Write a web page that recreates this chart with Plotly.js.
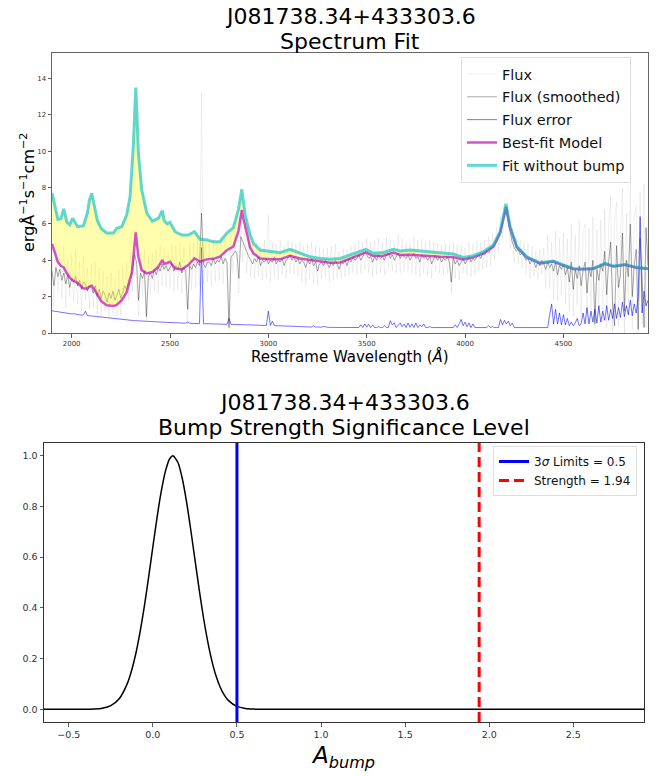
<!DOCTYPE html>
<html>
<head>
<meta charset="utf-8">
<script src="https://cdn.plot.ly/plotly-3.0.1.min.js"></script>
<style>html,body{margin:0;padding:0;background:#fff;}#chart{width:665px;height:776px;}</style>
</head>
<body>
<div id="chart"></div>
<script>
// ---------- Spectrum data ----------
const objectName = "J081738.34+433303.6";
const fluxWaveStart = 1900;   // Å, first sample of the flux arrays
const fluxWaveStep = 10;      // Å, sampling of the flux arrays

const fluxRaw = [
 4.6,1.5,5.0,2.2,4.4,1.9,4.8,1.4,4.1,2.0,4.3,1.7,4.5,1.6,3.9,1.2,4.2,1.8,3.6,1.3,
 3.8,1.4,3.9,1.0,3.6,0.9,3.4,1.2,3.1,0.8,3.3,1.1,3.0,0.9,3.5,1.0,3.6,1.5,3.9,1.8,
 4.4,2.3,5.6,2.6,0.9,4.4,2.0,4.6,0.7,4.2,2.1,4.4,2.3,4.6,2.2,4.8,2.6,4.7,2.5,4.6,
 2.5,4.9,2.3,4.8,2.4,5.0,2.2,4.7,2.3,0.4,4.9,2.4,5.0,2.5,5.1,2.6,13.2,2.7,5.0,2.8,
 5.1,2.6,5.2,2.8,5.0,2.9,5.3,2.7,5.2,2.8,0.2,5.4,3.3,5.6,3.2,2.2,6.4,3.9,5.9,3.3,
 5.2,3.1,4.9,3.0,5.0,3.1,4.8,2.9,5.1,3.0,6.5,2.8,5.0,3.1,4.9,2.9,5.1,3.2,4.8,3.0,
 5.1,3.3,5.0,3.2,4.9,3.1,5.0,2.8,4.8,2.6,4.9,3.0,5.0,2.7,4.8,2.6,4.7,3.0,4.6,3.1,
 4.7,2.8,4.8,2.9,4.9,3.0,4.5,3.0,4.7,3.1,4.6,3.2,4.8,3.3,4.9,3.2,5.1,3.3,5.0,3.5,
 5.2,3.3,5.0,3.1,5.1,3.2,5.2,3.3,5.0,3.2,5.3,3.5,5.1,3.4,4.9,3.3,5.4,3.3,5.2,3.4,
 5.0,3.4,4.9,3.3,5.3,3.2,5.1,3.1,5.2,3.3,5.0,3.2,5.1,3.0,5.0,3.4,4.9,3.3,4.8,3.2,
 4.9,3.3,4.8,2.2,5.0,3.0,4.9,2.9,4.8,3.3,4.7,3.2,5.0,3.1,4.9,3.2,5.1,3.4,5.0,3.5,
 5.1,3.6,5.3,3.7,5.5,4.0,5.8,4.4,6.4,5.2,7.3,7.4,6.8,4.6,5.8,3.9,5.3,3.8,5.1,3.6,
 5.0,3.2,4.9,3.0,4.8,3.1,4.5,2.9,4.6,3.2,4.7,2.4,5.4,2.5,5.0,1.9,5.6,1.8,5.2,2.1,
 5.5,1.6,5.2,1.2,6.0,0.9,5.4,1.5,6.2,0.8,5.6,6.0,0.5,5.8,1.3,6.4,0.2,5.7,1.0,6.2,
 0.6,6.8,0.3,6.0,7.5,0.1,6.2,7.2,0.4,5.4,8.0,0.0,6.6,1.0,8.4,0.2,6.4,7.0,0.0,7.8,
 0.5,8.2,0.3,6.0
];

const fluxSmoothed = [
 3.4,2.6,3.6,3.1,3.5,2.9,3.3,2.7,3.2,2.5,3.0,2.8,3.1,2.6,2.9,2.4,2.8,2.7,2.3,2.6,
 2.5,2.2,2.6,2.0,2.4,1.9,2.3,2.1,1.7,2.2,1.9,2.3,1.8,2.1,2.4,1.9,2.3,2.6,2.4,2.9,
 3.2,3.6,4.3,3.9,1.8,3.3,3.0,3.4,0.9,3.1,3.3,3.0,3.5,3.2,3.6,3.4,3.8,3.5,3.7,3.4,
 3.6,3.8,3.4,3.7,3.5,3.9,3.3,3.6,3.4,1.3,3.7,3.5,3.8,3.6,3.9,3.7,6.6,3.8,3.6,3.9,
 3.9,3.7,4.1,3.8,4.0,3.9,4.2,3.8,4.1,3.9,0.3,4.2,4.3,4.5,4.4,3.0,5.3,5.0,4.7,4.5,
 4.2,4.0,3.8,4.1,3.9,4.2,3.7,4.0,3.9,4.1,3.8,4.0,3.9,4.2,3.8,4.0,3.9,4.1,3.7,4.0,
 4.1,4.3,4.0,4.2,3.9,4.1,3.8,4.0,3.9,3.6,4.0,3.8,4.1,3.7,3.9,3.4,3.8,3.9,3.7,4.0,
 3.8,3.6,3.9,3.7,4.0,3.8,3.5,3.9,3.8,4.0,3.7,4.1,3.9,4.2,4.0,4.1,4.3,4.0,4.2,4.4,
 4.3,4.1,4.2,3.9,4.2,4.0,4.3,4.1,4.2,4.0,4.3,4.4,4.1,4.3,4.0,4.2,4.4,4.1,4.3,4.2,
 4.1,4.3,4.0,4.2,4.4,4.1,4.2,3.9,4.3,4.1,4.2,4.0,4.2,3.8,4.1,4.3,4.0,4.2,3.9,4.1,
 4.0,4.2,3.9,2.8,4.1,3.8,4.0,3.7,3.9,4.1,3.8,4.0,4.2,3.9,4.1,4.0,4.2,4.3,4.1,4.4,
 4.3,4.5,4.4,4.6,4.7,4.9,5.0,5.3,5.6,6.1,6.5,6.8,6.0,5.4,5.0,4.7,4.5,4.6,4.3,4.4,
 4.2,4.0,4.1,3.8,4.0,3.9,3.6,3.9,3.7,4.0,3.8,3.5,3.9,3.6,3.8,3.4,3.9,3.2,3.7,3.5,
 3.8,3.2,3.6,2.8,3.9,2.4,3.5,3.0,3.7,2.6,3.4,3.9,2.2,3.6,3.1,4.0,0.5,3.5,2.9,3.8,
 3.4,4.5,2.1,3.9,5.0,1.6,0.4,4.8,2.5,3.2,5.5,1.2,4.0,3.1,6.0,2.0,3.7,4.6,0.2,5.2,
 3.0,0.3,5.8,3.7
];

const fluxError = [
 1.22,1.2,1.18,1.19,1.15,1.14,1.13,1.1,1.1,1.08,1.05,1.06,1.03,1.02,1.0,0.98,0.99,1.2,0.96,0.95,
 0.93,0.92,0.9,0.89,0.88,0.87,0.85,0.84,0.83,0.82,0.8,0.79,0.78,0.77,0.76,0.75,0.74,0.73,0.72,0.71,
 0.7,0.69,0.68,0.68,0.67,0.66,0.66,0.65,0.65,0.64,0.63,0.63,0.62,0.62,0.61,0.6,0.6,0.59,0.59,0.58,
 0.58,0.57,0.57,0.56,0.56,0.55,0.55,0.55,0.54,0.6,0.54,0.53,0.53,0.53,0.52,0.52,4.7,0.52,0.51,0.51,
 0.55,0.51,0.5,0.5,0.5,0.49,0.49,0.49,0.48,0.48,0.8,0.48,0.47,0.47,0.46,0.46,0.46,0.45,0.45,0.45,
 0.44,0.44,0.44,0.43,0.43,0.43,0.42,0.42,0.42,0.42,1.2,0.41,0.65,0.41,0.4,0.4,0.39,0.39,0.38,0.38,
 0.38,0.37,0.37,0.36,0.36,0.36,0.35,0.35,0.35,0.34,0.34,0.34,0.33,0.4,0.33,0.33,0.32,0.32,0.36,0.32,
 0.32,0.31,0.31,0.31,0.3,0.3,0.3,0.3,0.3,0.3,0.3,0.3,0.32,0.3,0.3,0.3,0.3,0.45,0.3,0.5,
 0.32,0.48,0.3,0.45,0.3,0.3,0.35,0.3,0.3,0.4,0.3,0.3,0.68,0.45,0.55,0.3,0.4,0.55,0.35,0.5,
 0.3,0.55,0.32,0.5,0.3,0.55,0.3,0.45,0.35,0.5,0.3,0.3,0.35,0.3,0.3,0.3,0.3,0.3,0.3,0.3,
 0.3,0.3,0.3,0.3,0.3,0.45,0.3,0.5,0.75,0.4,0.6,0.35,0.55,0.3,0.5,0.3,0.3,0.3,0.3,0.3,
 0.3,0.3,0.4,0.3,0.35,0.3,0.3,0.3,0.75,0.45,0.7,0.5,0.65,0.4,0.55,0.3,0.3,0.3,0.3,0.3,
 0.3,0.3,0.3,0.3,0.3,0.3,0.3,0.3,0.3,0.3,0.3,0.3,0.3,1.0,1.6,0.5,1.3,0.5,1.1,0.45,
 1.0,0.45,0.8,0.4,0.6,0.4,0.55,0.8,0.4,0.5,1.1,0.5,1.4,0.5,1.2,0.6,1.3,0.55,1.5,0.6,
 1.2,0.7,1.5,0.7,1.3,0.8,1.6,0.8,1.4,0.85,1.7,0.9,1.5,1.0,1.8,0.95,1.6,1.1,2.0,6.4,
 1.1,2.3,1.5,1.8
];

const modelWave = [
 1900,1930,1945,1960,1975,1990,2005,2030,2060,2080,
 2090,2102,2115,2130,2150,2178,2212,2229,2255,2280,
 2297,2306,2314,2320,2326,2332,2339,2356,2382,2410,
 2440,2461,2470,2485,2500,2526,2560,2593,2624,2653,
 2687,2720,2754,2789,2822,2848,2858,2865,2872,2882,
 2907,2924,2958,3009,3059,3110,3161,3212,3263,3314,
 3365,3432,3495,3534,3585,3636,3670,3720,3771,3822,
 3873,3941,3991,4042,4093,4144,4178,4200,4208,4216,
 4229,4263,4314,4381,4449,4500,4551,4601,4652,4712,
 4754,4813,4873,4930
];

const fitWithoutBump = [
 7.7,6.25,6.3,6.83,6.1,5.95,6.31,5.85,5.9,6.6,
 7.3,7.69,7.0,6.2,5.75,5.5,5.5,5.76,5.85,6.5,
 7.5,8.8,10.4,12.0,13.5,12.0,9.9,7.88,6.6,6.15,
 6.3,6.72,6.2,6.0,6.09,5.57,5.39,5.39,5.57,5.15,
 5.12,5.02,5.02,5.5,5.8,6.8,7.5,7.9,7.3,6.5,
 5.4,4.93,4.56,4.47,4.42,4.6,4.38,4.19,4.1,4.05,
 4.1,4.34,4.6,4.38,4.43,4.6,4.51,4.56,4.51,4.43,
 4.38,4.34,4.16,4.25,4.47,4.84,5.57,6.6,7.1,6.6,
 5.85,4.75,4.19,3.86,3.96,3.74,3.55,3.52,3.55,3.83,
 3.68,3.77,3.61,3.55
];

const bestFitModel = [
 4.9,3.9,3.7,3.6,3.3,3.05,2.9,2.75,2.45,2.45,
 2.55,2.6,2.4,2.1,1.75,1.52,1.48,1.55,1.8,2.26,
 3.0,3.3,4.19,4.9,5.54,4.9,4.19,3.46,3.28,3.35,
 3.64,4.01,3.8,3.85,3.92,3.55,3.5,3.74,4.1,3.92,
 4.05,4.08,4.2,4.55,4.75,5.6,6.3,6.77,6.3,5.9,
 4.7,4.38,4.1,4.05,4.05,4.25,4.1,4.01,3.92,3.86,
 3.88,4.16,4.43,4.23,4.25,4.42,4.29,4.3,4.25,4.23,
 4.19,4.16,4.05,4.16,4.38,4.75,5.48,6.5,6.95,6.5,
 5.8,4.72,4.16,3.83,3.93,3.71,3.52,3.5,3.53,3.8,
 3.66,3.75,3.59,3.53
];

const waveTicks = [2000, 2500, 3000, 3500, 4000, 4500];
const fluxTicks = [0, 2, 4, 6, 8, 10, 12, 14];

// ---------- Bump significance data ----------
const bumpA = [-0.65,-0.4,-0.35,-0.3,-0.25,-0.2,-0.15,-0.125,-0.1,-0.075,-0.05,-0.025,0,0.025,0.05,0.075,0.1,0.12,0.15,0.175,0.2,0.225,0.25,0.275,0.3,0.325,0.35,0.375,0.4,0.425,0.45,0.5,0.55,0.6,0.7,2.92];
const bumpProb = [0,0.0002,0.0011,0.0042,0.0144,0.0418,0.1044,0.156,0.223,0.308,0.408,0.521,0.640,0.756,0.859,0.939,0.988,1.0,0.972,0.910,0.820,0.710,0.592,0.475,0.366,0.272,0.194,0.133,0.088,0.056,0.0342,0.0114,0.0032,0.0008,0,0];
const limit3Sigma = [0.5, 0.5];
const strength = [1.94, 1.94];
const probRange = [-0.05, 1.05];
const aTicks = [-0.5, 0.0, 0.5, 1.0, 1.5, 2.0, 2.5];
const probTicks = [0.0, 0.2, 0.4, 0.6, 0.8, 1.0];

// ---------- Build ----------
const fluxWave = fluxRaw.map((_, i) => fluxWaveStart + i * fluxWaveStep);
const FONT = "DejaVu Sans, Liberation Sans, sans-serif";

const traces = [
  {x: fluxWave, y: fluxRaw, name: "Flux", mode: "lines", legendgroup: "a",
   line: {color: "rgba(0,0,0,0.075)", width: 0.8}, xaxis: "x", yaxis: "y"},
  {x: fluxWave, y: fluxSmoothed, name: "Flux (smoothed)", mode: "lines", legendgroup: "b",
   line: {color: "rgba(0,0,0,0.42)", width: 0.8}, xaxis: "x", yaxis: "y"},
  {x: fluxWave, y: fluxError, name: "Flux error", mode: "lines", legendgroup: "c",
   line: {color: "rgba(0,0,255,0.55)", width: 1}, xaxis: "x", yaxis: "y"},
  {x: modelWave, y: bestFitModel, mode: "lines", showlegend: false, hoverinfo: "skip",
   line: {width: 0, color: "rgba(0,0,0,0)"}, xaxis: "x", yaxis: "y"},
  {x: modelWave, y: fitWithoutBump, mode: "none", fill: "tonexty", showlegend: false, hoverinfo: "skip",
   fillcolor: "rgba(255,255,0,0.32)", xaxis: "x", yaxis: "y"},
  {x: modelWave, y: bestFitModel, name: "Best-fit Model", mode: "lines", legendgroup: "d",
   line: {color: "rgba(191,0,191,0.68)", width: 2.5}, xaxis: "x", yaxis: "y"},
  {x: modelWave, y: fitWithoutBump, name: "Fit without bump", mode: "lines", legendgroup: "e",
   line: {color: "rgba(0,191,191,0.62)", width: 3}, xaxis: "x", yaxis: "y"},

  {x: bumpA, y: bumpProb, mode: "lines", showlegend: false, line: {color: "#000", width: 1.5, shape: "spline", smoothing: 0.6},
   xaxis: "x2", yaxis: "y2"},
  {x: limit3Sigma, y: probRange, mode: "lines", name: "3<i>σ</i> Limits = 0.5", legend: "legend2",
   line: {color: "#0000ff", width: 3}, xaxis: "x2", yaxis: "y2"},
  {x: strength, y: probRange, mode: "lines", name: "Strength = 1.94", legend: "legend2",
   line: {color: "#ff0000", width: 3, dash: "10px,5px"}, xaxis: "x2", yaxis: "y2"}
];

const W = 665, H = 776;
const px = v => v / W, py = v => 1 - v / H;

const axisCommon = {showgrid: false, zeroline: false, showline: true, mirror: true,
  ticks: "outside", ticklen: 3.5, tickwidth: 0.8, tickcolor: "#333"};

const layout = {
  width: W, height: H,
  margin: {l: 0, r: 0, t: 0, b: 0},
  paper_bgcolor: "#fff", plot_bgcolor: "#fff",
  font: {family: FONT, color: "#222"},
  showlegend: true,
  xaxis: Object.assign({}, axisCommon, {domain: [px(52), px(648)], anchor: "y",
    range: [1900, 4930], tickvals: waveTicks, ticktext: waveTicks.map(String),
    tickfont: {size: 7, color: "#333"}, linecolor: "#666", linewidth: 1}),
  yaxis: Object.assign({}, axisCommon, {domain: [py(333), py(53)], anchor: "x",
    range: [0, 15.4], tickvals: fluxTicks, ticktext: fluxTicks.map(String),
    tickfont: {size: 7, color: "#333"}, linecolor: "#666", linewidth: 1}),
  xaxis2: Object.assign({}, axisCommon, {domain: [px(44), px(644)], anchor: "y2",
    range: [-0.647, 2.92], tickvals: aTicks, tickformat: ".1f",
    tickfont: {size: 9.5, color: "#333"}, linecolor: "#333", linewidth: 1}),
  yaxis2: Object.assign({}, axisCommon, {domain: [py(722), py(443)], anchor: "x2",
    range: probRange, tickvals: probTicks, tickformat: ".1f",
    tickfont: {size: 9.5, color: "#333"}, linecolor: "#333", linewidth: 1}),
  legend: {x: px(631), y: py(57), xanchor: "right", yanchor: "top",
    bgcolor: "rgba(255,255,255,0.85)", bordercolor: "#ddd", borderwidth: 1,
    font: {size: 14.5, family: FONT, color: "#111"}, traceorder: "grouped", tracegroupgap: 1},
  legend2: {x: px(637), y: py(446), xanchor: "right", yanchor: "top",
    bgcolor: "rgba(255,255,255,0.85)", bordercolor: "#ddd", borderwidth: 1,
    font: {size: 12, family: FONT, color: "#111"}},
  annotations: [
    {text: objectName, x: px(350), y: py(16), xref: "paper", yref: "paper", showarrow: false,
     xanchor: "center", yanchor: "middle", font: {size: 22, family: FONT, color: "#000"}},
    {text: "Spectrum Fit", x: px(350), y: py(41), xref: "paper", yref: "paper", showarrow: false,
     xanchor: "center", yanchor: "middle", font: {size: 22, family: FONT, color: "#000"}},
    {text: "ergÅ<sup>−1</sup>s<sup>−1</sup>cm<sup>−2</sup>", x: px(27), y: py(193), xref: "paper", yref: "paper",
     showarrow: false, textangle: -90, xanchor: "center", yanchor: "middle", font: {size: 16, family: FONT, color: "#000"}},
    {text: "Restframe Wavelength (<i>Å</i>)", x: px(350), y: py(357), xref: "paper", yref: "paper", showarrow: false,
     xanchor: "center", yanchor: "middle", font: {size: 15, family: FONT, color: "#000"}},
    {text: objectName, x: px(344), y: py(402), xref: "paper", yref: "paper", showarrow: false,
     xanchor: "center", yanchor: "middle", font: {size: 22, family: FONT, color: "#000"}},
    {text: "Bump Strength Significance Level", x: px(344), y: py(427), xref: "paper", yref: "paper", showarrow: false,
     xanchor: "center", yanchor: "middle", font: {size: 22, family: FONT, color: "#000"}},
    {text: "<i>A</i><sub><i>bump</i></sub>", x: px(343), y: py(757), xref: "paper", yref: "paper", showarrow: false,
     xanchor: "center", yanchor: "middle", font: {size: 23, family: FONT, color: "#000"}}
  ]
};

Plotly.newPlot("chart", traces, layout, {displayModeBar: false, staticPlot: true});
</script>
</body>
</html>
